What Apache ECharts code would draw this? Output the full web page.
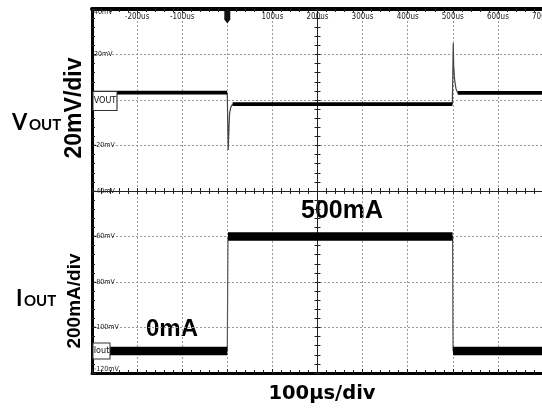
<!DOCTYPE html>
<html>
<head>
<meta charset="utf-8">
<script src="https://cdn.jsdelivr.net/npm/echarts@6/dist/echarts.min.js"></script>
<style>html,body{margin:0;padding:0;background:#fff;}#c{width:542px;height:411px;}</style>
</head>
<body>
<div id="c"></div>
<script>
// Time axis (µs) and screen scale (display mV)
const timeRange = [-300, 700];
const timeStep = 100;
const levelRange = [-120, 40];
const levelStep = 20;
const timeLabelSkip = [-300, 0];
const levelLabelSkip = [0];

// VOUT trace: time (µs) and display level (mV)
const voutTime  = [-300, -0.5, 0, 1, 2, 3.5, 5, 8, 12, 499, 500, 501, 502, 504, 507, 511, 700];
const voutLevel = [3.2, 3.2, 2, -10, -22, -14, -6, -3, -1.8, -1.8, -1, 25, 15, 9, 5, 3.1, 3.1];
// plateau segments of VOUT (index ranges into the arrays above)
const voutPlateaus = [[0, 1], [8, 9], [15, 16]];

// IOUT trace: time (µs) and display level (mV); 0mA at -110.3, 500mA at -60
const ioutTime  = [-300, 0, 1.5, 499.5, 500.5, 700];
const ioutLevel = [-110.3, -110.3, -60, -60, -110.3, -110.3];
const ioutPlateaus = [[0, 1], [2, 3], [4, 5]];

function pairs(t, v) { return t.map((x, i) => [x, v[i]]); }
function plateauData(t, v, segs) {
  const out = [];
  segs.forEach((s, k) => {
    for (let i = s[0]; i <= s[1]; i++) out.push([t[i], v[i]]);
    if (k < segs.length - 1) out.push('-');
  });
  return out;
}

const chart = echarts.init(document.getElementById('c'), null, {renderer: 'canvas'});
const small = '"Liberation Sans Narrow","DejaVu Sans Condensed","Liberation Sans",sans-serif';
const dotted = {color: '#9a9a9a', width: 1, type: [2, 2]};
const tickStyle = {color: '#222', width: 1};

const xBase = {type: 'value', min: timeRange[0], max: timeRange[1], interval: timeStep, gridIndex: 0};
const yBase = {type: 'value', min: levelRange[0], max: levelRange[1], interval: levelStep, gridIndex: 0};

const option = {
  backgroundColor: '#fff',
  animation: false,
  grid: {left: 92, top: 9, width: 451, height: 364, containLabel: false, outerBoundsMode: 'none'},
  xAxis: [
    Object.assign({}, xBase, {position: 'bottom',
      axisLine: {show: true, onZero: false, lineStyle: {color: '#000', width: 3}},
      axisTick: {show: true, inside: true, length: 4, lineStyle: tickStyle},
      minorTick: {show: true, splitNumber: 5, length: 3, lineStyle: tickStyle},
      splitLine: {show: true, lineStyle: dotted},
      axisLabel: {show: false}}),
    Object.assign({}, xBase, {position: 'top',
      axisLine: {show: true, onZero: false, lineStyle: {color: '#000', width: 4}},
      axisTick: {show: true, inside: true, length: 4, lineStyle: tickStyle},
      minorTick: {show: true, splitNumber: 5, length: 3, lineStyle: tickStyle},
      splitLine: {show: false},
      axisLabel: {show: true, inside: true, margin: 4, fontSize: 8, color: '#222', fontFamily: small,
        formatter: v => timeLabelSkip.indexOf(v) >= 0 ? '' : v + 'us'}}),
    Object.assign({}, xBase, {position: 'bottom', offset: -182,
      axisLine: {show: true, onZero: false, lineStyle: {color: '#222', width: 1}},
      axisTick: {show: true, inside: true, length: 3, lineStyle: tickStyle},
      minorTick: {show: true, splitNumber: 5, length: 3, lineStyle: tickStyle},
      splitLine: {show: false}, axisLabel: {show: false}}),
    Object.assign({}, xBase, {position: 'bottom', offset: -182,
      axisLine: {show: false, onZero: false},
      axisTick: {show: true, inside: false, length: 3, lineStyle: tickStyle},
      minorTick: {show: true, splitNumber: 5, length: 3, lineStyle: tickStyle},
      splitLine: {show: false}, axisLabel: {show: false}})
  ],
  yAxis: [
    Object.assign({}, yBase, {position: 'left',
      axisLine: {show: true, onZero: false, lineStyle: {color: '#000', width: 3}},
      axisTick: {show: true, inside: true, length: 4, lineStyle: tickStyle},
      minorTick: {show: true, splitNumber: 5, length: 3, lineStyle: tickStyle},
      splitLine: {show: true, lineStyle: dotted},
      axisLabel: {show: true, inside: true, margin: 2, fontSize: 7, color: '#222', fontFamily: small,
        verticalAlignMaxLabel: 'top', verticalAlignMinLabel: 'bottom',
        formatter: v => levelLabelSkip.indexOf(v) >= 0 ? '' : v + 'mV'}}),
    Object.assign({}, yBase, {position: 'left', offset: -225.5,
      axisLine: {show: true, onZero: false, lineStyle: {color: '#222', width: 1}},
      axisTick: {show: true, inside: true, length: 3, lineStyle: tickStyle},
      minorTick: {show: true, splitNumber: 5, length: 3, lineStyle: tickStyle},
      splitLine: {show: false}, axisLabel: {show: false}}),
    Object.assign({}, yBase, {position: 'left', offset: -225.5,
      axisLine: {show: false, onZero: false},
      axisTick: {show: true, inside: false, length: 3, lineStyle: tickStyle},
      minorTick: {show: true, splitNumber: 5, length: 3, lineStyle: tickStyle},
      splitLine: {show: false}, axisLabel: {show: false}})
  ],
  series: [
    {name: 'VOUT edge', type: 'line', xAxisIndex: 0, yAxisIndex: 0, showSymbol: false, silent: true,
      data: pairs(voutTime, voutLevel), lineStyle: {color: '#444', width: 1.2}, z: 3},
    {name: 'VOUT', type: 'line', xAxisIndex: 0, yAxisIndex: 0, showSymbol: false, silent: true, connectNulls: false,
      data: plateauData(voutTime, voutLevel, voutPlateaus), lineStyle: {color: '#000', width: 3.8}, z: 4,
      markPoint: {data: [
        {coord: [timeRange[0], 0], symbol: 'rect', symbolSize: [24, 19], symbolOffset: [13, 1],
          itemStyle: {color: '#fff', borderColor: '#333', borderWidth: 1},
          label: {show: true, position: 'inside', formatter: 'VOUT', fontSize: 9, color: '#111', fontFamily: small}},
        {coord: [0, levelRange[1]], symbol: 'path://M0,0 L6,0 L6,9 L3,13 L0,9 Z', symbolSize: [6, 13], symbolOffset: [0, 8],
          itemStyle: {color: '#111'}, label: {show: false}}
      ]}},
    {name: 'IOUT edge', type: 'line', xAxisIndex: 0, yAxisIndex: 0, showSymbol: false, silent: true,
      data: pairs(ioutTime, ioutLevel), lineStyle: {color: '#555', width: 1.2}, z: 3},
    {name: 'IOUT', type: 'line', xAxisIndex: 0, yAxisIndex: 0, showSymbol: false, silent: true, connectNulls: false,
      data: plateauData(ioutTime, ioutLevel, ioutPlateaus), lineStyle: {color: '#000', width: 8.5}, z: 4,
      markPoint: {data: [
        {coord: [timeRange[0], ioutLevel[0]], symbol: 'rect', symbolSize: [17, 16], symbolOffset: [9.5, 0],
          itemStyle: {color: '#fff', borderColor: '#333', borderWidth: 1},
          label: {show: true, position: 'inside', formatter: 'Iout', fontSize: 9, color: '#111', fontFamily: small}}
      ]}}
  ],
  graphic: [
    {type: 'text', left: 12, top: 112, style: {text: 'V', fontSize: 22, fontWeight: 'bold', fontFamily: 'Lato', fill: '#000'}},
    {type: 'text', left: 29, top: 118, style: {text: 'OUT', fontSize: 15, fontWeight: 'bold', fontFamily: 'Lato', fill: '#000'}},
    {type: 'text', left: 16, top: 288, style: {text: 'I', fontSize: 22, fontWeight: 'bold', fontFamily: 'Lato', fill: '#000'}},
    {type: 'text', left: 24, top: 294, style: {text: 'OUT', fontSize: 15, fontWeight: 'bold', fontFamily: 'Lato', fill: '#000'}},
    {type: 'text', x: 74.5, y: 108, rotation: Math.PI / 2,
      style: {text: '20mV/div', fontSize: 23, fontWeight: 'bold', fontFamily: '"Liberation Sans"', fill: '#000', align: 'center', verticalAlign: 'middle'}},
    {type: 'text', x: 75, y: 301, rotation: Math.PI / 2,
      style: {text: '200mA/div', fontSize: 19, fontWeight: 'bold', fontFamily: '"Liberation Sans"', fill: '#000', align: 'center', verticalAlign: 'middle'}},
    {type: 'text', x: 342, y: 211,
      style: {text: '500mA', fontSize: 25, fontWeight: 'bold', fontFamily: '"Liberation Sans"', fill: '#000', align: 'center', verticalAlign: 'middle'}},
    {type: 'text', x: 172, y: 329,
      style: {text: '0mA', fontSize: 24, fontWeight: 'bold', fontFamily: '"Liberation Sans"', fill: '#000', align: 'center', verticalAlign: 'middle'}},
    {type: 'text', x: 322, y: 394,
      style: {text: '100µs/div', fontSize: 19.5, fontWeight: 'bold', fontFamily: '"DejaVu Sans"', fill: '#000', align: 'center', verticalAlign: 'middle'}}
  ]
};
chart.setOption(option);
</script>
</body>
</html>
